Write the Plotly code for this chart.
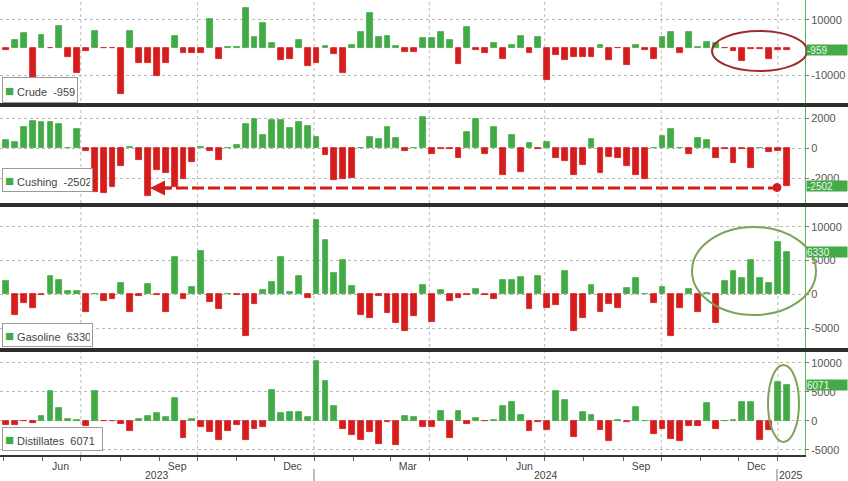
import pandas as pd
import plotly.graph_objects as go
from plotly.subplots import make_subplots

# ---------------- data ----------------
dates = pd.date_range(end="2025-01-08", periods=89, freq="7D")

crude = [-1000, 2900, 5100, -11200, 4500, -300, 7900, -3600, -9400, -1200,
         5900, -200, -200, -17000, 5900, -5500, -5800, -10300, -5800, 4100,
         -1900, -1900, -1900, 10300, -4200, 300, 300, 14200, 3700, 9000,
         1500, -4500, -4100, 2900, -6800, -5500, 700, -2400, -9200, 1000,
         5700, 12400, 3700, 4100, 700, -1600, -1600, 3300,
         3300, 5700, 2700, -6000, 7600, -1000, -2100, 1700, -4000, 900,
         4100, -2100, 3900, -11800, -2700, -4500, -3600, -3300, -3300, 900,
         -4500, -300, -6300, 900, -1000, -4300, 3900, 5700, -1900, 5700,
         200, 2100, 1700, -100, -1200, -4800, -700, -700, -4000, -900, -959]

cushing = [550, 400, 1450, 1800, 1750, 1750, 1600, 50, 1300, -200,
           -2900, -2950, -2600, -1200, 100, -800, -3150, -1450, -1650, -2550,
           -2050, -900, 100, -200, -750, 50, 200, 1600, 1950, 900,
           1900, 1900, 1350, 1750, 1500, 750, -450, -2100, -2050, -1950,
           50, 750, 650, 1450, 700, -200, 50, 2100,
           -350, -50, -50, -650, 1100, 1950, -350, 1400, -1750, 900,
           -1550, 350, -50, 400, -650, -850, -1750, -1100, 600, -1650,
           -550, -650, -1150, -1750, -2050, 50, 850, 1300, 30, -350,
           700, 550, -650, -50, -950, -30, -1300, 30, -250, -150, -2502]

gasoline = [1900, -3000, -1350, -2000, -100, 2750, 2100, 500, 500, -2550,
            50, -950, -700, 1600, -2550, -200, 1500, -150, -2550, 5550,
            -700, 1150, 6450, -1200, -2200, 50, -50, -6150, -1450, 650,
            1750, 5450, 400, 2700, -600, 11000, 8000, 3100, 5050, 1250,
            -3050, -3450, -250, -2700, -4300, -5400, -3150, 1400,
            -4050, 650, -1000, -600, -100, 800, -100, -750, 2050, 2100,
            2600, -2150, 2700, -2050, -1650, 3400, -5400, -3450, 1400, -2650,
            -1500, -2000, 900, 2450, 30, -1350, 1150, -6150, -2050, 800,
            -2550, 200, -4300, 2000, 3400, 2350, 5050, 2350, 1600, 7800, 6330]

distillates = [-750, -750, -50, -350, 850, 5200, 2150, 300, 50, -950,
               5050, -50, -100, -600, -1800, 250, 850, 1300, 700, 4000,
               -2900, 300, -1150, -1900, -3250, -1750, -750, -3350, -1500, -1050,
               5350, 1400, 1550, 1550, 700, 10300, 6800, 2450, -1500, -2500,
               -3250, -1900, -4050, -300, -4250, 850, 600, -1050,
               -1150, 1700, -2900, 1700, -600, 400, -100, 100, 2550, 3300,
               1000, -1800, -300, -1600, 5050, 3600, -2800, 1550, 1000, -1600,
               -3500, 50, -200, 2300, 30, -2300, -1350, -3100, -3500, -950,
               -950, 3000, -1350, 30, 200, 3300, 3300, -3250, -1600, 6650, 6071]

series_names = ["Crude", "Cushing", "Gasoline", "Distillates"]
series_values = [crude, cushing, gasoline, distillates]
last_labels = ["-959", "-2502", "6330", "6071"]

ytick_vals = [[10000, -10000], [2000, 0, -2000], [10000, 5000, 0, -5000], [10000, 5000, 0, -5000]]
ytick_text = [["10000", "-10000"], ["2000", "0", "-2000"],
              ["10000", "5000", "0", "-5000"], ["10000", "5000", "0", "-5000"]]

month_ticks = ["2023-06-15", "2023-09-15", "2023-12-15", "2024-03-15",
               "2024-06-15", "2024-09-15", "2024-12-15"]
month_text = ["Jun", "Sep", "Dec", "Mar", "Jun", "Sep", "Dec"]
quarter_lines = ["2023-07-01", "2023-10-01", "2024-01-01", "2024-04-01",
                 "2024-07-01", "2024-10-01", "2025-01-01"]
year_labels = ["2023", "2024", "2025"]

# ---------------- layout constants ----------------
W, H = 848, 481
PW = 805          # plot area width (px)
PB = 455          # plot area bottom (px)
GREEN = "#42ab47"
RED = "#d51d1d"
GRID = "#b9b9b9"
FONT = "Liberation Sans, Arial, sans-serif"


def px_x(p):
    return p / PW


def px_y(p):
    return (PB - p) / PB


panel_px = [(0, 103), (107, 203), (207, 348), (352, 455)]
y_ranges = [[-20180, 17270], [-3647, 2753], [-7944, 12914], [-5914, 11845]]
x_range = ["2023-04-28 05:00", "2025-01-22 10:00"]
bar_w = 4.6 * 86400000

fig = make_subplots(rows=4, cols=1, shared_xaxes=True, vertical_spacing=0.01)

for i, vals in enumerate(series_values):
    cols = [GREEN if v >= 0 else RED for v in vals]
    fig.add_trace(go.Bar(x=dates, y=vals, width=bar_w, marker_color=cols,
                         marker_line_color=cols, marker_line_width=0.8,
                         showlegend=False, hoverinfo="x+y"), row=i + 1, col=1)

for i in range(4):
    top, bot = panel_px[i]
    yname = "yaxis" if i == 0 else f"yaxis{i + 1}"
    xname = "xaxis" if i == 0 else f"xaxis{i + 1}"
    fig.layout[yname].update(
        domain=[px_y(bot), px_y(top)], range=y_ranges[i], side="right",
        tickvals=ytick_vals[i], ticktext=ytick_text[i],
        showgrid=True, gridcolor=GRID, griddash="dot", gridwidth=1,
        zeroline=False, showline=True, linecolor="#5cb85c", linewidth=1,
        ticks="outside", ticklen=3, tickcolor="#777",
        tickfont=dict(size=11, color="#555", family=FONT), fixedrange=True)
    fig.layout[xname].update(range=x_range, type="date", showgrid=False,
                             zeroline=False, domain=[0, 1])

fig.layout.xaxis4.update(
    tickvals=month_ticks, ticktext=month_text, ticks="", ticklen=0, showticklabels=True,
    tickfont=dict(size=10.5, color="#444", family=FONT),
    showline=True, linecolor="#333", linewidth=2,
    minor=dict(dtick="M1", tick0="2023-01-01", ticks="outside", ticklen=4,
               tickcolor="#666", showgrid=False))

shapes = []
for d in quarter_lines:
    shapes.append(dict(type="line", xref="x", yref="paper", x0=d, x1=d, y0=0, y1=1,
                       line=dict(color=GRID, width=1, dash="dot"), layer="below"))
for sp in [105, 205, 350]:
    shapes.append(dict(type="line", xref="paper", yref="paper", x0=0, x1=W / PW,
                       y0=px_y(sp), y1=px_y(sp), line=dict(color="#2d2d2d", width=4)))
for xs in [314, 777]:
    shapes.append(dict(type="line", xref="paper", yref="paper", x0=px_x(xs), x1=px_x(xs),
                       y0=px_y(469), y1=px_y(481), line=dict(color="#777", width=1)))
shapes.append(dict(type="circle", xref="paper", yref="paper",
                   x0=px_x(712), x1=px_x(807), y0=px_y(71), y1=px_y(31),
                   line=dict(color="#9e2b2b", width=2)))
shapes.append(dict(type="circle", xref="paper", yref="paper",
                   x0=px_x(692), x1=px_x(816), y0=px_y(315), y1=px_y(227),
                   line=dict(color="#7ba35c", width=2)))
shapes.append(dict(type="circle", xref="paper", yref="paper",
                   x0=px_x(768), x1=px_x(799), y0=px_y(442), y1=px_y(365),
                   line=dict(color="#7ba35c", width=2)))
shapes.append(dict(type="line", xref="paper", yref="paper",
                   x0=px_x(160), x1=px_x(775), y0=px_y(188), y1=px_y(188),
                   line=dict(color=RED, width=3, dash="12px,4px")))
shapes.append(dict(type="circle", xref="paper", yref="paper", fillcolor=RED,
                   x0=px_x(773), x1=px_x(781), y0=px_y(191.5), y1=px_y(183.5),
                   line=dict(color=RED, width=1)))

annotations = []
annotations.append(dict(xref="paper", yref="paper", x=px_x(150), y=px_y(188),
                        ax=22, ay=0, text="", showarrow=True, arrowhead=2,
                        arrowsize=1, arrowwidth=3, arrowcolor=RED))

leg_boxes = [(77, 103, 70), (168, 192, 85), (323, 347, 85), (427, 451, 95)]
for i, name in enumerate(series_names):
    t, b, w = leg_boxes[i]
    annotations.append(dict(
        xref="paper", yref="paper", x=px_x(2), y=px_y(b), xanchor="left", yanchor="bottom",
        text=f'<span style="color:{GREEN};font-size:15px">■</span> {name}  {last_labels[i]}',
        showarrow=False, align="left", width=w, height=(b - t) - 6, borderpad=2,
        bordercolor="#9a9a9a", borderwidth=1, bgcolor="white",
        font=dict(size=11, color="#444", family=FONT)))

for i, vals in enumerate(series_values):
    yref = "y" if i == 0 else f"y{i + 1}"
    annotations.append(dict(
        xref="paper", yref=yref, x=px_x(806), y=vals[-1], xanchor="left", yanchor="middle",
        text=last_labels[i], showarrow=False, width=40, height=10, borderpad=0,
        bgcolor=GREEN, font=dict(size=10, color="#eef7ee", family=FONT), align="left"))

for lab, xc in zip(year_labels, [157, 546, 791]):
    annotations.append(dict(xref="paper", yref="paper", x=px_x(xc), y=px_y(475),
                            text=lab, showarrow=False, xanchor="center", yanchor="middle",
                            font=dict(size=10.5, color="#444", family=FONT)))

fig.update_layout(
    width=W, height=H, margin=dict(l=0, r=W - PW, t=0, b=H - PB),
    paper_bgcolor="white", plot_bgcolor="white", bargap=0,
    shapes=shapes, annotations=annotations, showlegend=False,
    font=dict(family=FONT, color="#444"))

fig.write_html("out.html", config={"displayModeBar": False},
               post_script="document.body.style.margin='0';document.body.style.padding='0';"
                           "document.body.style.overflow='hidden';")
